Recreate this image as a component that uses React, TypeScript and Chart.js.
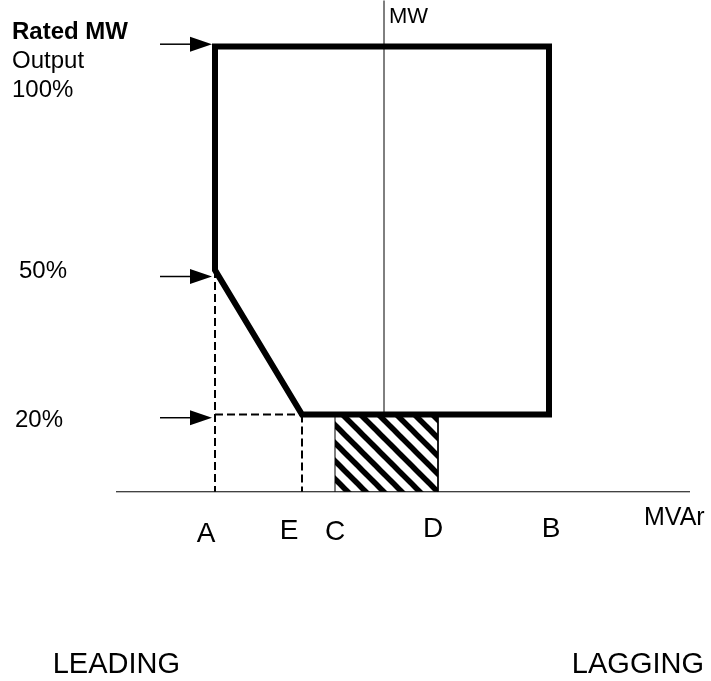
import React, { useEffect, useRef } from "react";
import { Chart, registerables } from "chart.js";

Chart.register(...registerables);

// ---- DATA (MVAr in units of the drawing; 0 = MW axis; MW in % of rated) ----
const POINT_NAMES = ["A", "E", "C", "D", "B"];
const POINT_MVAR = [-1.69, -0.82, -0.49, 0.54, 1.65];
const RATED_MW = 100;
const KNEE_MW = 51.4;
const MIN_MW = 20;
const AXIS_MW = 3.2;
const LEVEL_LABELS = ["100%", "50%", "20%"];
const ARROW_LEVELS = [100.5, 50, 19.3];
const ARROW_FROM = -2.24;
const ARROW_TO = -1.72;
const MVAR_AXIS_RANGE = [-2.68, 3.06];
const MW_AXIS_TOP = 110;
const SIDE_LABELS = ["LEADING", "LAGGING"];

// ---- LAYOUT ----
const W = 711;
const H = 681;
const FONT = '"Liberation Sans", Arial, sans-serif';
const LETTER_DX = [-9, -13, 0, -5, 2];
const LETTER_BASE = [542, 539, 540, 537, 537];

const pt = (name: string) => POINT_MVAR[POINT_NAMES.indexOf(name)];

function makeHatch(): CanvasPattern | string {
  const P = 18;
  const c = document.createElement("canvas");
  c.width = P;
  c.height = P;
  const g = c.getContext("2d");
  if (!g) return "#000";
  g.fillStyle = "#fff";
  g.fillRect(0, 0, P, P);
  g.strokeStyle = "#000";
  g.lineWidth = 5.5;
  for (let k = -1; k <= 1; k++) {
    g.beginPath();
    g.moveTo(k * P - 2, -2);
    g.lineTo(k * P + P + 2, P + 2);
    g.stroke();
  }
  const pat = g.createPattern(c, "repeat");
  return pat || "#000";
}

const annotationPlugin = {
  id: "annot",
  afterDatasetsDraw(chart: any) {
    const ctx = chart.ctx as CanvasRenderingContext2D;
    const xs = chart.scales.x;
    const ys = chart.scales.y;
    ctx.save();
    // arrows
    ctx.strokeStyle = "#000";
    ctx.fillStyle = "#000";
    ctx.lineWidth = 1.5;
    ARROW_LEVELS.forEach((lv) => {
      const y = ys.getPixelForValue(lv);
      const x0 = xs.getPixelForValue(ARROW_FROM);
      const x1 = xs.getPixelForValue(ARROW_TO);
      const headLen = 22;
      const half = 7.5;
      ctx.beginPath();
      ctx.moveTo(x0, y);
      ctx.lineTo(x1 - headLen + 2, y);
      ctx.stroke();
      ctx.beginPath();
      ctx.moveTo(x1, y);
      ctx.lineTo(x1 - headLen, y - half);
      ctx.lineTo(x1 - headLen, y + half);
      ctx.closePath();
      ctx.fill();
    });

    // texts
    ctx.textBaseline = "alphabetic";
    ctx.textAlign = "left";
    ctx.font = `bold 24px ${FONT}`;
    ctx.fillText("Rated MW", 12, 39);
    ctx.font = `24px ${FONT}`;
    ctx.fillText("Output", 12, 68);
    ctx.fillText(LEVEL_LABELS[0], 12, 97);
    ctx.fillText(LEVEL_LABELS[1], 19, 278);
    ctx.fillText(LEVEL_LABELS[2], 15, 427);
    ctx.font = `22px ${FONT}`;
    ctx.fillText("MW", 389, 23);
    ctx.font = `25px ${FONT}`;
    ctx.fillText("MVAr", 644, 525);

    ctx.font = `28px ${FONT}`;
    ctx.textAlign = "center";
    POINT_NAMES.forEach((n, i) => {
      const x = xs.getPixelForValue(POINT_MVAR[i]) + LETTER_DX[i];
      ctx.fillText(n, x, LETTER_BASE[i]);
    });

    ctx.font = `29px ${FONT}`;
    ctx.textAlign = "right";
    ctx.fillText(SIDE_LABELS[0], 180, 673);
    ctx.fillText(SIDE_LABELS[1], 704, 673);
    ctx.restore();
  },
};

export default function App() {
  const ref = useRef<HTMLCanvasElement | null>(null);

  useEffect(() => {
    if (!ref.current) return;
    const A = pt("A");
    const E = pt("E");
    const C = pt("C");
    const D = pt("D");
    const B = pt("B");
    const hatch = makeHatch();

    const line = (data: { x: number; y: number }[], extra: any = {}) => ({
      data,
      showLine: true,
      pointRadius: 0,
      pointHoverRadius: 0,
      borderColor: "#000",
      borderWidth: 1,
      tension: 0,
      fill: false,
      ...extra,
    });

    const dashed = { borderDash: [8, 4], borderWidth: 2, order: 3 };

    const chart = new Chart(ref.current, {
      type: "scatter",
      data: {
        datasets: [
          // capability outline
          line(
            [
              { x: 0, y: RATED_MW },
              { x: B, y: RATED_MW },
              { x: B, y: MIN_MW },
              { x: E, y: MIN_MW },
              { x: A, y: KNEE_MW },
              { x: A, y: RATED_MW },
              { x: 0, y: RATED_MW },
            ],
            { borderWidth: 6, borderJoinStyle: "miter", borderCapStyle: "butt", order: 0 }
          ),
          // MW axis
          line(
            [
              { x: 0, y: MIN_MW },
              { x: 0, y: MW_AXIS_TOP },
            ],
            { order: 2 }
          ),
          // MVAr axis
          line(
            [
              { x: MVAR_AXIS_RANGE[0], y: AXIS_MW },
              { x: MVAR_AXIS_RANGE[1], y: AXIS_MW },
            ],
            { order: 2 }
          ),
          // dashed construction lines
          line(
            [
              { x: A, y: KNEE_MW },
              { x: A, y: AXIS_MW },
            ],
            dashed
          ),
          line(
            [
              { x: A, y: MIN_MW },
              { x: E, y: MIN_MW },
            ],
            dashed
          ),
          line(
            [
              { x: E, y: MIN_MW },
              { x: E, y: AXIS_MW },
            ],
            dashed
          ),
          // hatched region C-D
          line(
            [
              { x: C, y: AXIS_MW },
              { x: C, y: MIN_MW },
              { x: D, y: MIN_MW },
              { x: D, y: AXIS_MW },
            ],
            {
              fill: { target: { value: AXIS_MW } },
              backgroundColor: hatch,
              borderWidth: 1,
              order: 5,
            }
          ),
        ],
      },
      options: {
        animation: false,
        responsive: false,
        maintainAspectRatio: false,
        layout: { padding: 0 },
        events: [],
        plugins: {
          legend: { display: false },
          tooltip: { enabled: false },
        },
        scales: {
          x: { type: "linear", display: false, min: -3.84, max: 3.27 },
          y: { type: "linear", display: false, min: -37.935, max: 110.109 },
        },
      },
      plugins: [annotationPlugin],
    });
    return () => chart.destroy();
  }, []);

  return (
    <div style={{ position: "absolute", left: 0, top: 0, width: W, height: H, background: "#fff" }}>
      <canvas ref={ref} width={W} height={H} style={{ display: "block", width: W, height: H }} />
    </div>
  );
}
